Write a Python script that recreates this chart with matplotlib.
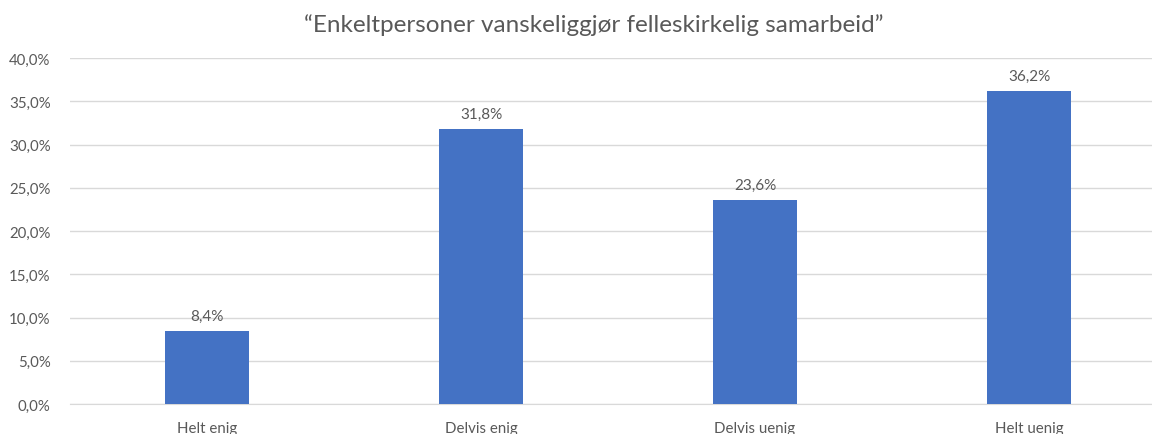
import matplotlib.pyplot as plt
from matplotlib.ticker import FuncFormatter

categories = ["Helt enig", "Delvis enig", "Delvis uenig", "Helt uenig"]
values = [8.4, 31.8, 23.6, 36.2]
title = "\u201cEnkeltpersoner vanskeliggjør felleskirkelig samarbeid\u201d"

plt.rcParams["font.family"] = ["Lato", "DejaVu Sans"]
text_color = "#595959"
grid_color = "#d9d9d9"

fig = plt.figure(figsize=(11.52, 4.35), dpi=100)
ax = fig.add_axes([70 / 1152, 30 / 435, 1096 / 1152, 346 / 435])

x = range(len(categories))
ax.bar(x, values, width=0.31, color="#4472C4", zorder=3)
for xi, v in zip(x, values):
    ax.annotate(f"{v:.1f}%".replace(".", ","), (xi, v), xytext=(0, 6),
                textcoords="offset points", ha="center", va="bottom",
                fontsize=11, color=text_color)

ax.set_xlim(-0.5, len(categories) - 0.5)
ax.set_ylim(0, 40)
ax.set_yticks(range(0, 41, 5))
ax.yaxis.set_major_formatter(FuncFormatter(lambda v, _: f"{v:.1f}%".replace(".", ",")))
ax.set_xticks(list(x))
ax.set_xticklabels(categories)
ax.grid(axis="y", color=grid_color, linewidth=1, zorder=0)
for s in ["top", "right", "left"]:
    ax.spines[s].set_visible(False)
ax.spines["bottom"].set_color(grid_color)
ax.tick_params(axis="both", length=0, labelsize=10.8, labelcolor=text_color)
ax.tick_params(axis="x", pad=12)
ax.tick_params(axis="y", pad=14)

fig.text(594 / 1152, 1 - 25 / 435, title, ha="center", va="center",
         fontsize=17.5, color=text_color)

fig.savefig("out.png", dpi=100)
